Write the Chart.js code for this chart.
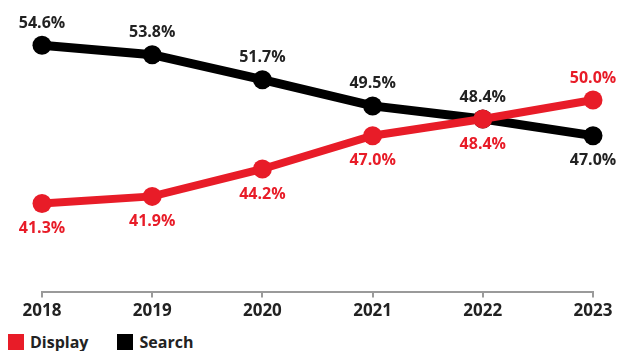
<!DOCTYPE html>
<html>
<head>
<meta charset="utf-8">
<script src="https://cdn.jsdelivr.net/npm/chart.js@4.4.1/dist/chart.umd.min.js"></script>
<style>
  html, body { margin: 0; padding: 0; background: #fff; }
  body { width: 626px; height: 351px; position: relative; overflow: hidden; font-family: "Open Sans", sans-serif; }
  #wrap { position: absolute; left: 0; top: 0; width: 626px; height: 324px; }
  #legend { position: absolute; left: 8px; top: 331px; display: flex; align-items: center; font-weight: 700; font-size: 16px; color: #222; }
  .item { display: flex; align-items: center; margin-right: 29px; }
  .box { width: 16px; height: 16px; margin-right: 6px; }
</style>
</head>
<body>
<div id="wrap"><canvas id="chartCanales"></canvas></div>
<div id="legend"></div>
<script>
const years = ['2018', '2019', '2020', '2021', '2022', '2023'];
const display = [41.3, 41.9, 44.2, 47.0, 48.4, 50.0];
const search = [54.6, 53.8, 51.7, 49.5, 48.4, 47.0];
// where each value label sits relative to its point
const displayLabelPos = ['below', 'below', 'below', 'below', 'below', 'above'];
const searchLabelPos = ['above', 'above', 'above', 'above', 'above', 'below'];

const ROJO = '#e81c28';
const NEGRO = '#000000';

const etiquetas = {
    id: 'etiquetas',
    afterDatasetsDraw(chart) {
        const ctx = chart.ctx;
        ctx.save();
        ctx.font = '700 16px "Open Sans", sans-serif';
        ctx.textAlign = 'center';
        ctx.textBaseline = 'middle';
        chart.data.datasets.forEach((ds, i) => {
            const meta = chart.getDatasetMeta(i);
            ctx.fillStyle = ds.labelColor;
            meta.data.forEach((pt, j) => {
                const dy = ds.labelPos[j] === 'above' ? -22 : 25;
                ctx.fillText(ds.data[j].toFixed(1) + '%', pt.x, pt.y + dy);
            });
        });
        ctx.restore();
    }
};

new Chart(document.getElementById('chartCanales'), {
    type: 'line',
    data: {
        labels: years,
        datasets: [
            {
                label: 'Search',
                data: search,
                borderColor: NEGRO,
                backgroundColor: NEGRO,
                borderWidth: 9,
                pointRadius: 9.5,
                pointBorderWidth: 0,
                pointHoverRadius: 9.5,
                labelColor: '#222',
                labelPos: searchLabelPos,
                clip: false,
                order: 2
            },
            {
                label: 'Display',
                data: display,
                borderColor: ROJO,
                backgroundColor: ROJO,
                borderWidth: 8,
                pointRadius: 9.5,
                pointBorderWidth: 0,
                pointHoverRadius: 9.5,
                labelColor: ROJO,
                labelPos: displayLabelPos,
                clip: false,
                order: 1
            }
        ]
    },
    options: {
        responsive: true,
        maintainAspectRatio: false,
        animation: false,
        layout: { padding: 0 },
        plugins: { legend: { display: false }, tooltip: { enabled: false } },
        scales: {
            x: {
                offset: false,
                grid: { drawOnChartArea: false, drawTicks: true, tickLength: 6, color: '#9a9a9a', lineWidth: 2 },
                border: { display: true, color: '#9a9a9a', width: 2 },
                ticks: { color: '#222', padding: 3, font: { family: '"Open Sans", sans-serif', size: 17, weight: '700', lineHeight: 1.2 } }
            },
            y: {
                position: 'left',
                min: 33.9,
                max: 57.6,
                grid: { display: false },
                border: { display: false },
                ticks: { display: false },
                afterFit: s => { s.width = 42; }
            },
            yr: {
                position: 'right',
                min: 33.9,
                max: 57.6,
                grid: { display: false },
                border: { display: false },
                ticks: { display: false },
                afterFit: s => { s.width = 33; }
            }
        }
    },
    plugins: [etiquetas]
});

const leyenda = document.getElementById('legend');
[['Display', ROJO], ['Search', NEGRO]].forEach(([nombre, color]) => {
    const it = document.createElement('div');
    it.className = 'item';
    it.innerHTML = `<span class="box" style="background:${color}"></span><span>${nombre}</span>`;
    leyenda.appendChild(it);
});
</script>
</body>
</html>
